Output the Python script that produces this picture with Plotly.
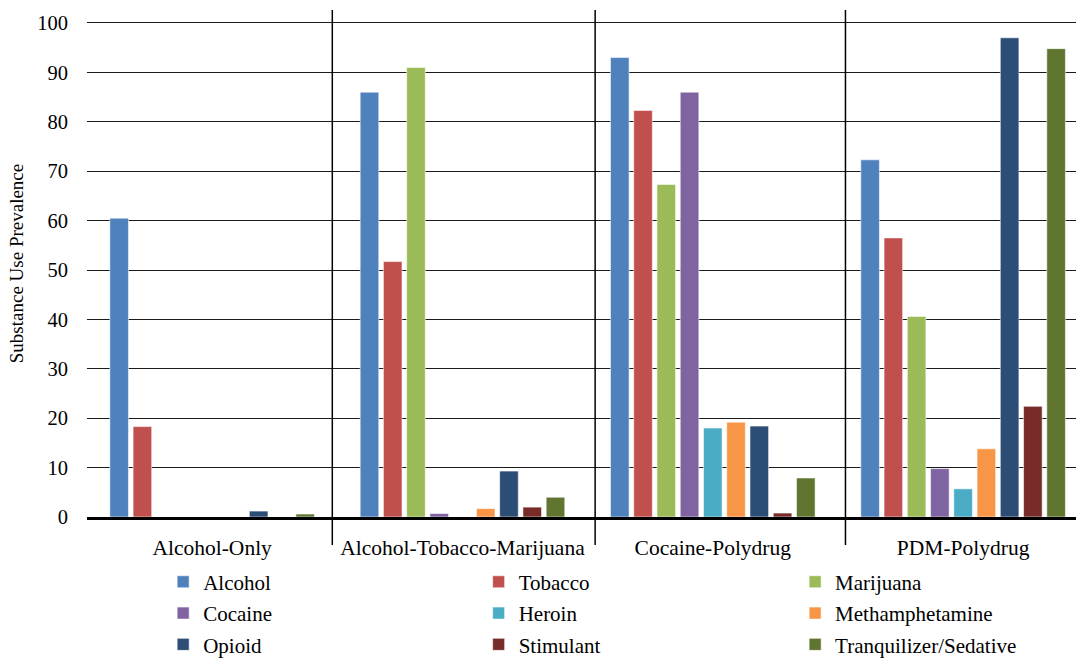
import plotly.graph_objects as go

groups = ["Alcohol-Only", "Alcohol-Tobacco-Marijuana", "Cocaine-Polydrug", "PDM-Polydrug"]
alcohol = [60.5, 86.0, 93.0, 72.3]
tobacco = [18.3, 51.7, 82.3, 56.5]
marijuana = [0.0, 91.0, 67.3, 40.6]
cocaine = [0.0, 0.7, 86.0, 9.8]
heroin = [0.0, 0.0, 18.0, 5.7]
methamphetamine = [0.0, 1.7, 19.2, 13.8]
opioid = [1.2, 9.3, 18.4, 97.0]
stimulant = [0.0, 2.0, 0.8, 22.4]
tranquilizer = [0.6, 4.0, 7.9, 94.8]

series = [
    ("Alcohol", alcohol, "#4F81BD"),
    ("Tobacco", tobacco, "#C0504D"),
    ("Marijuana", marijuana, "#9BBB59"),
    ("Cocaine", cocaine, "#8064A2"),
    ("Heroin", heroin, "#4BACC6"),
    ("Methamphetamine", methamphetamine, "#F79646"),
    ("Opioid", opioid, "#2C4D75"),
    ("Stimulant", stimulant, "#772C2A"),
    ("Tranquilizer/Sedative", tranquilizer, "#5F7530"),
]

FONT = "Liberation Serif"
legend_ids = ["legend", "legend2", "legend3"]

fig = go.Figure()
for i, (name, vals, color) in enumerate(series):
    fig.add_trace(go.Bar(
        name=name, x=groups, y=vals,
        legend=legend_ids[i % 3], legendgroup=name,
        marker=dict(color=color, line=dict(color="rgba(255,255,255,0.55)", width=1)),
    ))

leg_common = dict(
    orientation="v", yanchor="top", y=-0.088, xanchor="left",
    font=dict(family=FONT, size=21, color="black"),
    traceorder="grouped", tracegroupgap=1, itemwidth=30,
    bgcolor="rgba(0,0,0,0)",
)

fig.update_layout(
    width=1076, height=658,
    paper_bgcolor="white", plot_bgcolor="white",
    margin=dict(l=87, r=0, t=10, b=141, autoexpand=False),
    barmode="group", bargap=0.164, bargroupgap=0.2,
    font=dict(family=FONT, size=21, color="black"),
    showlegend=True,
    legend=dict(x=0.077, **leg_common),
    legend2=dict(x=0.396, **leg_common),
    legend3=dict(x=0.716, **leg_common),
)
fig.update_xaxes(
    range=[-0.5, 3.451], showgrid=False, showline=True, linecolor="black",
    linewidth=2.5, ticks="", tickfont=dict(family=FONT, size=21.5),
    ticklabelstandoff=9,
)
fig.update_yaxes(
    range=[0, 102.63], tickmode="linear", tick0=0, dtick=10,
    showgrid=True, gridcolor="#1a1a1a", gridwidth=1.2, zeroline=False,
    showline=False, ticks="", ticklabelstandoff=18,
    tickfont=dict(family=FONT, size=20.5),
    title=dict(text="Substance Use Prevalence", font=dict(family=FONT, size=19), standoff=8),
)
# category divider lines
for xd in [0.48, 1.53, 2.53]:
    fig.add_shape(type="line", xref="x", yref="paper", x0=xd, x1=xd, y0=-0.055, y1=1,
                  line=dict(color="black", width=1.5))

fig.write_html("out.html", config={"displayModeBar": False},
               post_script="document.body.style.margin='0';document.body.style.padding='0';")
